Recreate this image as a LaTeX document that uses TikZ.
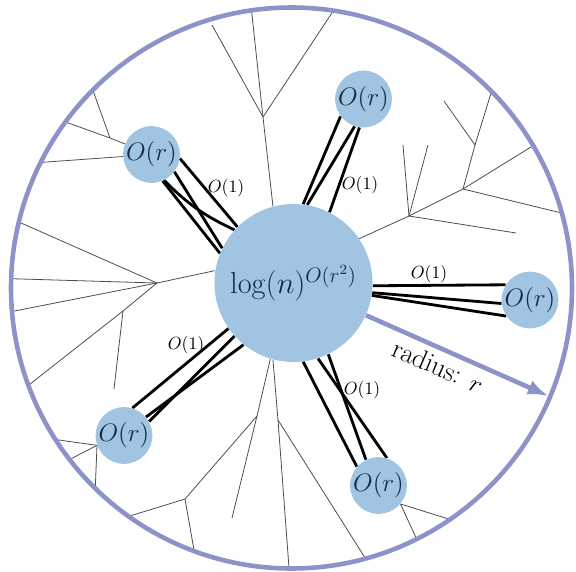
\documentclass[tikz,border=0pt]{standalone}
\usetikzlibrary{arrows.meta, backgrounds}

\definecolor{blobblue}{RGB}{160,196,225}
\definecolor{ringpurple}{RGB}{141,146,200}
\definecolor{blobtext}{RGB}{22,42,72}

\begin{document}
\begin{tikzpicture}
    [
        blob/.style = {
                circle,
                fill=blobblue,
                inner sep=0pt,
                minimum size=1.08cm,
                text=blobtext,
                font=\fontsize{13.5}{16}\selectfont
            },
        bigblob/.style = {blob, minimum size=3.16cm, font=\fontsize{16.5}{20}\selectfont},
        ring/.style = {draw=ringpurple, line width=2.6pt},
        twig/.style = {draw=black!70, line width=0.45pt},
        link/.style = {draw=black, line width=1.6pt},
        cost/.style = {font=\normalsize},
    ]

    \useasboundingbox (-5.83,-5.66) rectangle (5.69,5.76);

    \draw[ring] (0,0) circle (5.61);

    \node[bigblob] (core) at (0.04,0.10) {$\log(n)^{O(r^2)}$};
    \node[blob] (nw) at (-2.80,2.67) {$O(r)$};
    \node[blob] (n)  at (1.44,3.78)  {$O(r)$};
    \node[blob] (e)  at (4.77,-0.24) {$O(r)$};
    \node[blob] (sw) at (-3.35,-2.95) {$O(r)$};
    \node[blob] (s)  at (1.74,-3.95) {$O(r)$};

    % points where the tree meets the boundary
    \foreach \ang [count=\i] in {15.5,30.5,44.5,81.4,98.2,135.1,143.7,153.4,166.4,178.1,184.8,
                                 200.3,212.7,217.7,225.6,234.5,249.7,269.5,285.3,296.5,304.4}
        \coordinate (rim\i) at (\ang:5.61);

    \coordinate (forkT)  at (-0.57,3.42);
    \coordinate (endT)   at (-1.59,5.26);
    \coordinate (forkNW) at (-3.63,3.00);
    \coordinate (forkW)  at (-2.69,0.10);
    \coordinate (forkW2) at (-3.37,-0.46);
    \coordinate (endW)   at (-3.55,-2.02);
    \coordinate (forkS)  at (-0.69,-2.56);
    \coordinate (endS)   at (-1.19,-4.60);
    \coordinate (forkS2) at (-2.13,-4.22);
    \coordinate (forkS3) at (-0.27,-2.64);
    \coordinate (forkA)  at (2.35,1.44);
    \coordinate (endA1)  at (2.23,2.86);
    \coordinate (endA2)  at (2.73,2.86);
    \coordinate (endA3)  at (4.49,1.10);
    \coordinate (forkB)  at (3.43,1.98);
    \coordinate (forkC)  at (3.67,2.86);
    \coordinate (endC)   at (3.05,3.74);

    \begin{scope}[on background layer]
        % the underlying tree
        \draw[twig] (core.105) -- (forkT) -- (rim5);
        \draw[twig] (forkT) -- (endT);
        \draw[twig] (forkT) -- (rim4);
        \draw[twig] (nw) -- (rim8);
        \draw[twig] (nw) -- (forkNW) -- (rim7);
        \draw[twig] (forkNW) -- (rim6);
        \draw[twig] (core.171) -- (forkW) -- (rim9);
        \draw[twig] (forkW) -- (rim10);
        \draw[twig] (forkW) -- (rim11);
        \draw[twig] (forkW) -- (forkW2) -- (rim12);
        \draw[twig] (forkW2) -- (endW);
        \draw[twig] (sw.200) -- (rim13);
        \draw[twig] (sw.200) -- (rim14);
        \draw[twig] (sw.200) -- (rim15);
        \draw[twig] (core.253) -- (forkS) -- (endS);
        \draw[twig] (forkS) -- (forkS2) -- (rim16);
        \draw[twig] (forkS2) -- (rim17);
        \draw[twig] (core.255) -- (forkS3) -- (rim18);
        \draw[twig] (forkS3) -- (rim19);
        \draw[twig] (s.-40) -- (rim20);
        \draw[twig] (s.-40) -- (rim21);
        \draw[twig] (core.34) -- (forkA) -- (endA1);
        \draw[twig] (forkA) -- (endA2);
        \draw[twig] (forkA) -- (endA3);
        \draw[twig] (forkA) -- (forkB) -- (rim1);
        \draw[twig] (forkB) -- (rim2);
        \draw[twig] (forkB) -- (forkC) -- (rim3);
        \draw[twig] (forkC) -- (endC);

        % bundles of edges to the small pieces
        \draw[link] (nw.-8) -- (core.135);
        \draw[link] (nw.-37) -- (core.154);
        \draw[link] (nw.-64) to[bend right=10] (core.138);
        \draw[link] (nw.-67) -- (core.158);

        \draw[link] (n.217) -- (core.83);
        \draw[link] (n.252) -- (core.80);
        \draw[link] (n.262) -- (core.63);

        \draw[link] (core.-2) -- (e.148);
        \draw[link] (core.-7) -- (e.187);
        \draw[link] (core.-9) -- (e.214);

        \draw[link] (core.-83) -- (s.139);
        \draw[link] (core.-72) -- (s.73);
        \draw[link] (core.-64) -- (s.116);

        \draw[link] (core.215) -- (sw.73);
        \draw[link] (core.222) -- (sw.29);
        \draw[link] (core.231) -- (sw.40);
    \end{scope}

    \node[cost] (cnw) at (-1.31,2.00)  {$O(1)$};
    \node[cost] (cn)  at (1.37,2.06)   {$O(1)$};
    \node[cost] (ce)  at (2.75,0.28)   {$O(1)$};
    \node[cost] (csw) at (-2.11,-1.14) {$O(1)$};
    \node[cost] (cs)  at (1.41,-2.04)  {$O(1)$};

    \coordinate (tip) at (-22.8:5.58);
    \draw[ring, -{Latex[length=0.42cm,width=0.3cm]}] (core.-24) -- (tip);
    \node[rotate=-23.5, font=\fontsize{15.5}{18}\selectfont] (rlabel) at (2.93,-1.56) {radius: $r$};

\end{tikzpicture}
\end{document}
